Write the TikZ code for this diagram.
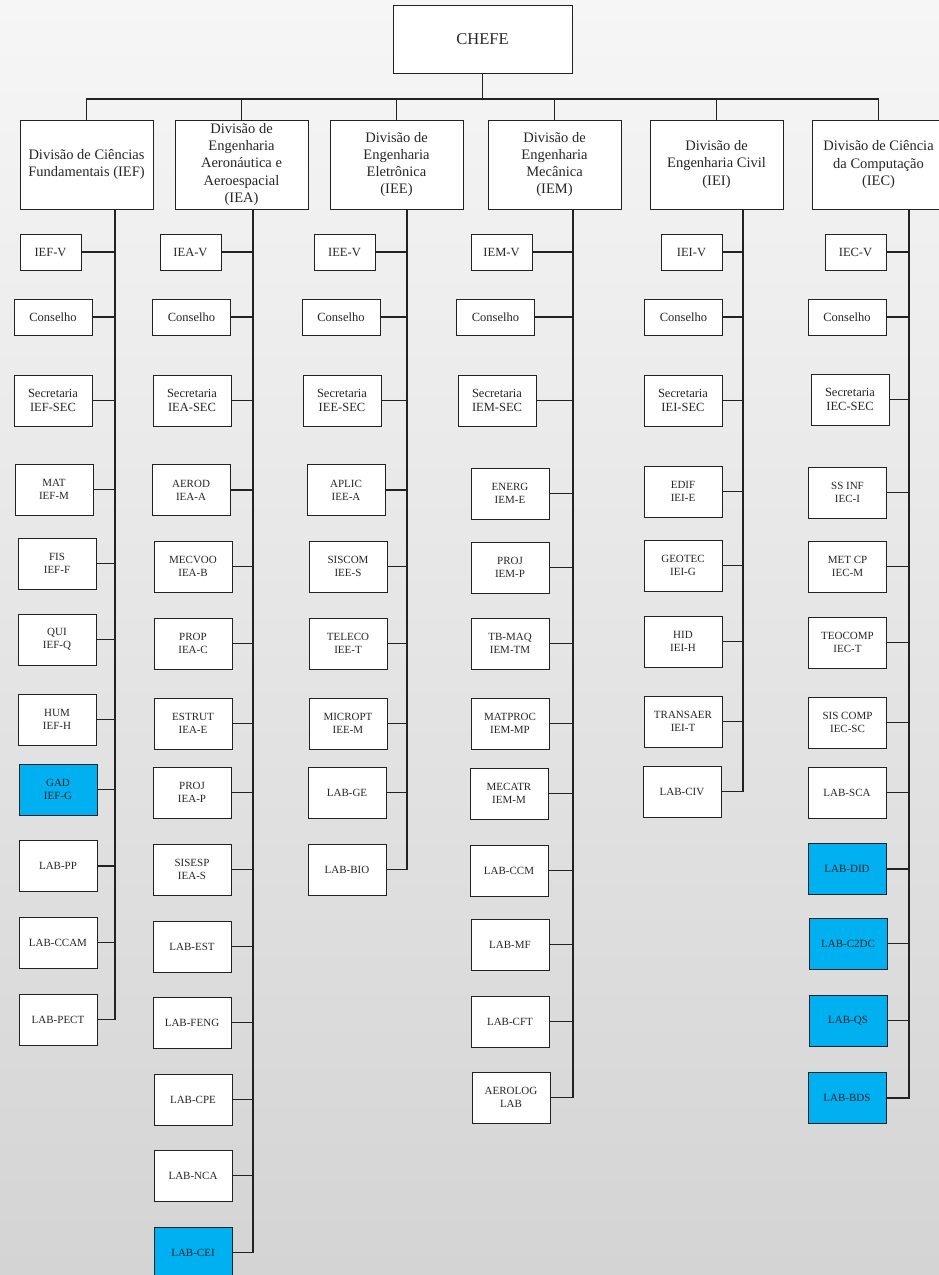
\documentclass[tikz,border=0pt]{standalone}
\usepackage{fontspec}
\setmainfont{Liberation Serif}
\usepackage{xcolor}
\usepackage{tikz}

\definecolor{labblue}{RGB}{0,176,240}
\definecolor{bgtop}{RGB}{246,246,246}
\definecolor{bgbottom}{RGB}{212,212,212}
\definecolor{linegray}{RGB}{34,34,34}

\begin{document}
\begin{tikzpicture}[
    x=1pt, y=-1pt,
    box/.style={rectangle, draw=linegray, line width=1pt, fill=white, inner sep=0pt, align=center,
        minimum width=78pt, minimum height=51pt, text=black!85, font=\fontsize{11}{13.3}\selectfont},
    cbox/.style={box, minimum height=36pt, font=\fontsize{12.5}{14.7}\selectfont},
    vbox/.style={cbox, minimum width=61pt},
    secbox/.style={box, font=\fontsize{12.5}{14.7}\selectfont},
    divbox/.style={box, minimum width=133pt, minimum height=89pt, font=\fontsize{14.5}{17.3}\selectfont},
    hilite/.style={box, fill=labblue},
    link/.style={draw=linegray, line width=1.2pt}
]
\clip (0,0) rectangle (939,1275);
\shade[top color=bgtop, bottom color=bgbottom] (0,0) rectangle (939,1275);

% top and divisions
\node[box, minimum width=179pt, minimum height=68pt, font=\fontsize{16.5}{19}\selectfont] (chefe) at (482.5,39) {CHEFE};
\node[divbox] (ief) at (86.5,164.5) {Divisão de Ciências\\Fundamentais (IEF)};
\node[divbox] (iea) at (241.5,164.5) {Divisão de\\Engenharia\\Aeronáutica e\\Aeroespacial\\(IEA)};
\node[divbox] (iee) at (396.5,164.5) {Divisão de\\Engenharia\\Eletrônica\\(IEE)};
\node[divbox] (iem) at (554.5,164.5) {Divisão de\\Engenharia\\Mecânica\\(IEM)};
\node[divbox] (iei) at (716.5,164.5) {Divisão de\\Engenharia Civil\\(IEI)};
\node[divbox] (iec) at (878.5,164.5) {Divisão de Ciência\\da Computação\\(IEC)};

\coordinate (bus) at (482,99);
\draw[link] (chefe) -- (chefe |- bus);
\draw[link] (ief.north) -- (ief.north |- bus) -| (iec.north);
\draw[link] (iea.north) -- (iea.north |- bus);
\draw[link] (iee.north) -- (iee.north |- bus);
\draw[link] (iem.north) -- (iem.north |- bus);
\draw[link] (iei.north) -- (iei.north |- bus);

% spines
\coordinate (iefSpine) at (115,0);
\coordinate (ieaSpine) at (253,0);
\coordinate (ieeSpine) at (407,0);
\coordinate (iemSpine) at (573,0);
\coordinate (ieiSpine) at (743,0);
\coordinate (iecSpine) at (909,0);

% IEF
\node[vbox] (iefV) at (50.5,252) {IEF-V};
\node[cbox] (iefCons) at (53,317) {Conselho};
\node[secbox] (iefSec) at (53,400.5) {Secretaria\\IEF-SEC};
\node[box] (iefM) at (54,489.5) {MAT\\IEF-M};
\node[box] (iefF) at (57,563.5) {FIS\\IEF-F};
\node[box] (iefQ) at (57,639.5) {QUI\\IEF-Q};
\node[box] (iefH) at (57,719.5) {HUM\\IEF-H};
\node[hilite] (iefG) at (58,789.5) {GAD\\IEF-G};
\node[box] (labPP) at (58,866) {LAB-PP};
\node[box] (labCCAM) at (58,942.5) {LAB-CCAM};
\node[box] (labPECT) at (58,1019.5) {LAB-PECT};

\draw[link] (ief.south -| iefSpine) |- (labPECT.east);
\draw[link] (iefV.east) -- (iefV.east -| iefSpine);
\draw[link] (iefCons.east) -- (iefCons.east -| iefSpine);
\draw[link] (iefSec.east) -- (iefSec.east -| iefSpine);
\draw[link] (iefM.east) -- (iefM.east -| iefSpine);
\draw[link] (iefF.east) -- (iefF.east -| iefSpine);
\draw[link] (iefQ.east) -- (iefQ.east -| iefSpine);
\draw[link] (iefH.east) -- (iefH.east -| iefSpine);
\draw[link] (iefG.east) -- (iefG.east -| iefSpine);
\draw[link] (labPP.east) -- (labPP.east -| iefSpine);
\draw[link] (labCCAM.east) -- (labCCAM.east -| iefSpine);

% IEA
\node[vbox] (ieaV) at (190.5,252) {IEA-V};
\node[cbox] (ieaCons) at (191.5,317) {Conselho};
\node[secbox] (ieaSec) at (192,400.5) {Secretaria\\IEA-SEC};
\node[box] (ieaA) at (191,490) {AEROD\\IEA-A};
\node[box] (ieaB) at (193,566.5) {MECVOO\\IEA-B};
\node[box] (ieaC) at (193,643.5) {PROP\\IEA-C};
\node[box] (ieaE) at (193,723.5) {ESTRUT\\IEA-E};
\node[box] (ieaP) at (192,792.5) {PROJ\\IEA-P};
\node[box] (ieaS) at (192,869.5) {SISESP\\IEA-S};
\node[box] (labEST) at (192,946.5) {LAB-EST};
\node[box] (labFENG) at (192,1022.5) {LAB-FENG};
\node[box] (labCPE) at (193,1099.5) {LAB-CPE};
\node[box] (labNCA) at (193,1175.5) {LAB-NCA};
\node[hilite] (labCEI) at (193,1252.5) {LAB-CEI};

\draw[link] (iea.south -| ieaSpine) |- (labCEI.east);
\draw[link] (ieaV.east) -- (ieaV.east -| ieaSpine);
\draw[link] (ieaCons.east) -- (ieaCons.east -| ieaSpine);
\draw[link] (ieaSec.east) -- (ieaSec.east -| ieaSpine);
\draw[link] (ieaA.east) -- (ieaA.east -| ieaSpine);
\draw[link] (ieaB.east) -- (ieaB.east -| ieaSpine);
\draw[link] (ieaC.east) -- (ieaC.east -| ieaSpine);
\draw[link] (ieaE.east) -- (ieaE.east -| ieaSpine);
\draw[link] (ieaP.east) -- (ieaP.east -| ieaSpine);
\draw[link] (ieaS.east) -- (ieaS.east -| ieaSpine);
\draw[link] (labEST.east) -- (labEST.east -| ieaSpine);
\draw[link] (labFENG.east) -- (labFENG.east -| ieaSpine);
\draw[link] (labCPE.east) -- (labCPE.east -| ieaSpine);
\draw[link] (labNCA.east) -- (labNCA.east -| ieaSpine);

% IEE
\node[vbox] (ieeV) at (344.5,252) {IEE-V};
\node[cbox] (ieeCons) at (341,317) {Conselho};
\node[secbox] (ieeSec) at (342,400.5) {Secretaria\\IEE-SEC};
\node[box] (ieeA) at (346,490) {APLIC\\IEE-A};
\node[box] (ieeS) at (348,566.5) {SISCOM\\IEE-S};
\node[box] (ieeT) at (348,643.5) {TELECO\\IEE-T};
\node[box] (ieeM) at (348,723.5) {MICROPT\\IEE-M};
\node[box] (labGE) at (347,792.5) {LAB-GE};
\node[box] (labBIO) at (347,869.5) {LAB-BIO};

\draw[link] (iee.south -| ieeSpine) |- (labBIO.east);
\draw[link] (ieeV.east) -- (ieeV.east -| ieeSpine);
\draw[link] (ieeCons.east) -- (ieeCons.east -| ieeSpine);
\draw[link] (ieeSec.east) -- (ieeSec.east -| ieeSpine);
\draw[link] (ieeA.east) -- (ieeA.east -| ieeSpine);
\draw[link] (ieeS.east) -- (ieeS.east -| ieeSpine);
\draw[link] (ieeT.east) -- (ieeT.east -| ieeSpine);
\draw[link] (ieeM.east) -- (ieeM.east -| ieeSpine);
\draw[link] (labGE.east) -- (labGE.east -| ieeSpine);

% IEM
\node[vbox] (iemV) at (501.5,252) {IEM-V};
\node[cbox] (iemCons) at (495.5,317) {Conselho};
\node[secbox] (iemSec) at (497,400.5) {Secretaria\\IEM-SEC};
\node[box] (iemE) at (510,493.5) {ENERG\\IEM-E};
\node[box] (iemP) at (510,567.5) {PROJ\\IEM-P};
\node[box] (iemTM) at (510,643.5) {TB-MAQ\\IEM-TM};
\node[box] (iemMP) at (510,723.5) {MATPROC\\IEM-MP};
\node[box] (iemM) at (509,793.5) {MECATR\\IEM-M};
\node[box] (labCCM) at (509,870.5) {LAB-CCM};
\node[box] (labMF) at (510,944.5) {LAB-MF};
\node[box] (labCFT) at (510,1021.5) {LAB-CFT};
\node[box] (aerolog) at (511,1097.5) {AEROLOG\\LAB};

\draw[link] (iem.south -| iemSpine) |- (aerolog.east);
\draw[link] (iemV.east) -- (iemV.east -| iemSpine);
\draw[link] (iemCons.east) -- (iemCons.east -| iemSpine);
\draw[link] (iemSec.east) -- (iemSec.east -| iemSpine);
\draw[link] (iemE.east) -- (iemE.east -| iemSpine);
\draw[link] (iemP.east) -- (iemP.east -| iemSpine);
\draw[link] (iemTM.east) -- (iemTM.east -| iemSpine);
\draw[link] (iemMP.east) -- (iemMP.east -| iemSpine);
\draw[link] (iemM.east) -- (iemM.east -| iemSpine);
\draw[link] (labCCM.east) -- (labCCM.east -| iemSpine);
\draw[link] (labMF.east) -- (labMF.east -| iemSpine);
\draw[link] (labCFT.east) -- (labCFT.east -| iemSpine);

% IEI
\node[vbox] (ieiV) at (691.5,252) {IEI-V};
\node[cbox] (ieiCons) at (683.5,317) {Conselho};
\node[secbox] (ieiSec) at (683,400.5) {Secretaria\\IEI-SEC};
\node[box] (ieiE) at (683,491.5) {EDIF\\IEI-E};
\node[box] (ieiG) at (683,565.5) {GEOTEC\\IEI-G};
\node[box] (ieiH) at (683,641.5) {HID\\IEI-H};
\node[box] (ieiT) at (683,721.5) {TRANSAER\\IEI-T};
\node[box] (labCIV) at (682,791.5) {LAB-CIV};

\draw[link] (iei.south -| ieiSpine) |- (labCIV.east);
\draw[link] (ieiV.east) -- (ieiV.east -| ieiSpine);
\draw[link] (ieiCons.east) -- (ieiCons.east -| ieiSpine);
\draw[link] (ieiSec.east) -- (ieiSec.east -| ieiSpine);
\draw[link] (ieiE.east) -- (ieiE.east -| ieiSpine);
\draw[link] (ieiG.east) -- (ieiG.east -| ieiSpine);
\draw[link] (ieiH.east) -- (ieiH.east -| ieiSpine);
\draw[link] (ieiT.east) -- (ieiT.east -| ieiSpine);

% IEC
\node[vbox] (iecV) at (855.5,252) {IEC-V};
\node[cbox] (iecCons) at (847,317) {Conselho};
\node[secbox] (iecSec) at (850,399.5) {Secretaria\\IEC-SEC};
\node[box] (iecI) at (847.5,492.5) {SS INF\\IEC-I};
\node[box] (iecM) at (847.5,566.5) {MET CP\\IEC-M};
\node[box] (iecT) at (847.5,642.5) {TEOCOMP\\IEC-T};
\node[box] (iecSC) at (847.5,722.5) {SIS COMP\\IEC-SC};
\node[box] (labSCA) at (847,792.5) {LAB-SCA};
\node[hilite] (labDID) at (847,869) {LAB-DID};
\node[hilite] (labCDC) at (848,943.5) {LAB-C2DC};
\node[hilite] (labQS) at (848,1020.5) {LAB-QS};
\node[hilite] (labBDS) at (847,1098) {LAB-BDS};

\draw[link] (iec.south -| iecSpine) |- (labBDS.east);
\draw[link] (iecV.east) -- (iecV.east -| iecSpine);
\draw[link] (iecCons.east) -- (iecCons.east -| iecSpine);
\draw[link] (iecSec.east) -- (iecSec.east -| iecSpine);
\draw[link] (iecI.east) -- (iecI.east -| iecSpine);
\draw[link] (iecM.east) -- (iecM.east -| iecSpine);
\draw[link] (iecT.east) -- (iecT.east -| iecSpine);
\draw[link] (iecSC.east) -- (iecSC.east -| iecSpine);
\draw[link] (labSCA.east) -- (labSCA.east -| iecSpine);
\draw[link] (labDID.east) -- (labDID.east -| iecSpine);
\draw[link] (labCDC.east) -- (labCDC.east -| iecSpine);
\draw[link] (labQS.east) -- (labQS.east -| iecSpine);
\end{tikzpicture}
\end{document}
